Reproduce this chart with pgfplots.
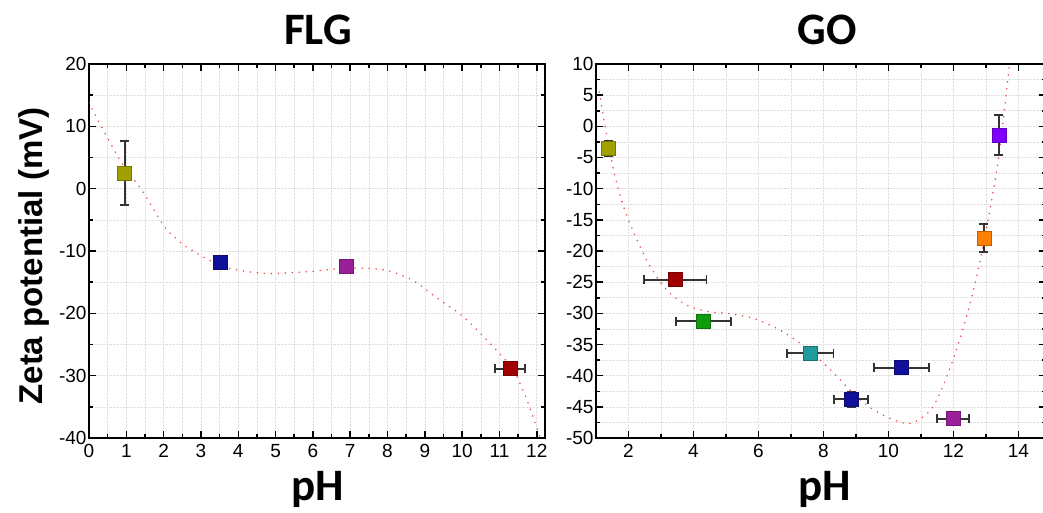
\documentclass[border=0pt]{standalone}
\usepackage{pgfplots}
\pgfplotsset{compat=1.18}
\usepackage{fontspec}
\setmainfont{Liberation Sans}
\newfontfamily\carlito{Carlito}

\definecolor{olivept}{HTML}{A0A000}
\definecolor{redpt}{HTML}{A00000}
\definecolor{navypt}{HTML}{10109A}
\definecolor{magpt}{HTML}{9A209A}
\definecolor{greenpt}{HTML}{109A10}
\definecolor{tealpt}{HTML}{209A9A}
\definecolor{orangept}{HTML}{FF8000}
\definecolor{violetpt}{HTML}{8000FF}
\definecolor{fitred}{HTML}{F05050}

\pgfplotsset{
  zp/.style={
    scale only axis, height=374pt,
    axis line style={line width=1.8pt},
    tick style={line width=1.5pt, black},
    major tick length=7pt, minor tick length=4pt, tick align=inside,
    grid=both,
    major grid style={densely dotted, black!12, line width=0.6pt},
    minor grid style={densely dotted, black!12, line width=0.6pt},
    tick label style={font=\fontsize{19}{22}\selectfont},
    /pgf/number format/assume math mode=true,
    xticklabel style={yshift=-3pt},
    yticklabel style={xshift=1pt},
  },
  pt/.style={only marks, mark=square*, mark size=7pt,
    mark options={fill=#1, draw=#1!75!black, line width=0.8pt}},
  eb/.style={draw=none, mark=none,
    error bars/.cd, x dir=both, x explicit, y dir=both, y explicit,
    error bar style={draw=black!80, solid, line width=1.9pt},
    error mark=|,
    error mark options={draw=black!80, solid, line width=1.9pt, mark size=4.5pt}},
  fit/.style={smooth, fitred, line width=1.8pt, line cap=round,
    dash pattern=on 0pt off 7pt, mark=none},
}

\begin{document}
\begin{tikzpicture}
% FLG
\begin{axis}[zp, at={(89pt,74pt)}, anchor=south west, width=456pt,
  xmin=0, xmax=12.22, ymin=-40, ymax=20,
  xtick={0,1,...,12}, minor x tick num=1,
  ytick={-40,-30,...,20}, minor y tick num=1]
\addplot[fit] coordinates {(0.0,13.8) (0.4,9.2) (0.95,3.4) (1.4,-0.1) (2.0,-5.9) (2.3,-7.8) (2.6,-9.3)
  (3.2,-11.4) (3.7,-12.7) (4.5,-13.5) (5.0,-13.6) (5.9,-13.3) (6.8,-12.8) (7.5,-12.8)
  (8.05,-13.2) (8.7,-14.8) (9.25,-17.2) (10.0,-20.4) (10.55,-23.6) (11.3,-28.5)
  (11.65,-32.6) (11.95,-37.5) (12.12,-40.5)};
\addplot[pt=olivept] coordinates {(0.96,2.5)};
\addplot[pt=navypt] coordinates {(3.51,-11.9)};
\addplot[pt=magpt] coordinates {(6.9,-12.5)};
\addplot[pt=redpt] coordinates {(11.29,-28.9)};
\addplot[eb] coordinates {(0.96,2.5) +- (0.1,5.1) (3.51,-11.9) +- (0.08,0.4)
  (6.9,-12.5) +- (0.08,0.5) (11.29,-28.9) +- (0.4,0.5)};
\end{axis}
% GO
\begin{axis}[zp, at={(596pt,74pt)}, anchor=south west, width=450pt,
  xmin=1, xmax=14.85, ymin=-50, ymax=10,
  xtick={2,4,...,14}, minor x tick num=1,
  ytick={-50,-45,...,10}, minor y tick num=1]
\addplot[fit] coordinates {(1.1,5.5) (1.28,0) (1.54,-7) (1.85,-12.9) (2.26,-18.2) (2.67,-22.5)
  (3.18,-26.3) (3.8,-28.7) (4.41,-29.7) (5.03,-30.0) (5.85,-30.8) (6.67,-32.7) (7.49,-35.6)
  (8.32,-39.6) (8.93,-42.9) (9.55,-45.5) (10.27,-47.3) (10.73,-47.6) (11.3,-45.5)
  (11.71,-41.3) (12.22,-33.8) (12.74,-23.6) (13.25,-9.7) (13.46,-2.2) (13.72,9.6) (13.75,11)};
\addplot[pt=olivept] coordinates {(1.39,-3.6)};
\addplot[pt=redpt] coordinates {(3.44,-24.6)};
\addplot[pt=greenpt] coordinates {(4.31,-31.3)};
\addplot[pt=tealpt] coordinates {(7.6,-36.4)};
\addplot[pt=navypt] coordinates {(10.41,-38.7)};
\addplot[pt=navypt] coordinates {(8.85,-43.8)};
\addplot[pt=magpt] coordinates {(11.99,-46.9)};
\addplot[pt=orangept] coordinates {(12.94,-17.9)};
\addplot[pt=violetpt] coordinates {(13.4,-1.4)};
\addplot[eb] coordinates {(1.39,-3.6) +- (0.1,1.2) (3.44,-24.6) +- (0.96,0.6)
  (4.31,-31.3) +- (0.85,0.9) (7.6,-36.4) +- (0.71,0.7) (10.41,-38.7) +- (0.85,0.7)
  (8.85,-43.8) +- (0.53,1.2) (11.99,-46.9) +- (0.5,0.6) (12.94,-17.9) +- (0.1,2.3)
  (13.4,-1.4) +- (0.08,3.2)};
\end{axis}
% titles and labels
\node[anchor=base, font=\carlito\bfseries\fontsize{45}{50}\selectfont] at (318pt,467pt) {FLG};
\node[anchor=base, font=\carlito\bfseries\fontsize{45}{50}\selectfont] at (827pt,467pt) {GO};
\node[anchor=base, font=\carlito\bfseries\fontsize{45}{50}\selectfont] at (318pt,12pt) {pH};
\node[anchor=base, font=\carlito\bfseries\fontsize{45}{50}\selectfont] at (825pt,12pt) {pH};
\node[anchor=base, rotate=90, font=\bfseries\fontsize{33}{38}\selectfont] at (42pt,256pt) {Zeta potential (mV)};
\pgfresetboundingbox
\useasboundingbox (0,0) rectangle (1043pt,512pt);
\end{tikzpicture}
\end{document}
